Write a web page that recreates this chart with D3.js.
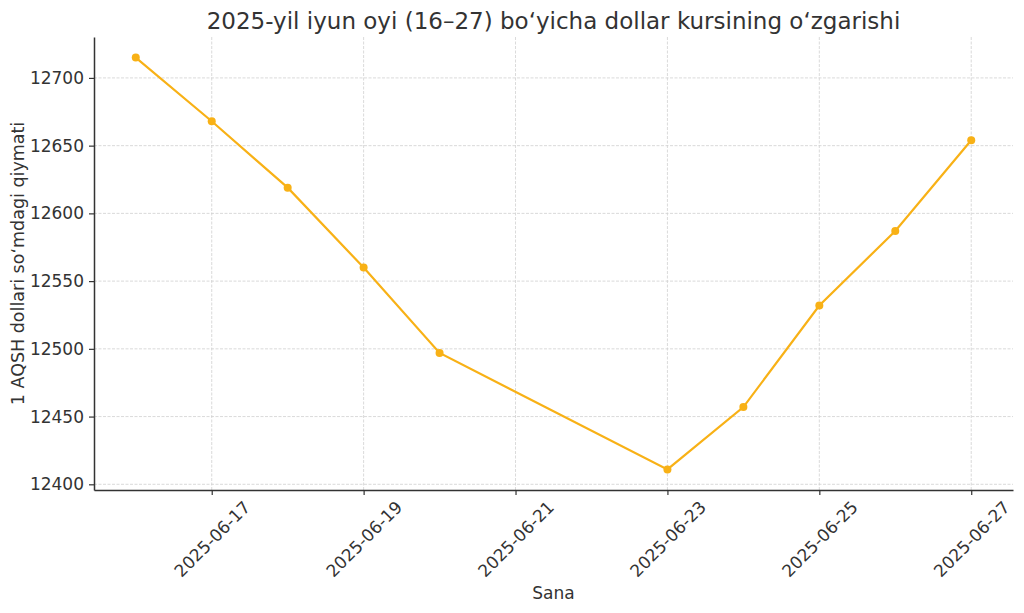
<!DOCTYPE html>
<html><head><meta charset="utf-8">
<script src="https://cdn.jsdelivr.net/npm/d3@7"></script>
<style>body{margin:0;background:#fff}svg{display:block}text{font-family:"DejaVu Sans",sans-serif;fill:#333}</style>
</head><body><svg id="c" width="1024" height="613"></svg>
<script>
const dates = ["2025-06-16","2025-06-17","2025-06-18","2025-06-19","2025-06-20","2025-06-23","2025-06-24","2025-06-25","2025-06-26","2025-06-27"];
const rates = [12715,12668,12619,12560,12497,12411,12457,12532,12587,12654];
const yTicks = [12400,12450,12500,12550,12600,12650,12700];
const xTickLabels = ["2025-06-17","2025-06-19","2025-06-21","2025-06-23","2025-06-25","2025-06-27"];
const titleText = "2025-yil iyun oyi (16–27) bo‘yicha dollar kursining o‘zgarishi";
const yLabel = "1 AQSH dollari so‘mdagi qiymati";
const xLabel = "Sana";

const parse = d3.utcParse("%Y-%m-%d");
const data = dates.map((d,i)=>({date:parse(d), v:rates[i]}));
const L=94,R=1013,T=37,B=490;
const svg=d3.select("#c");
const xMin=parse(dates[0]), xMax=parse(dates[dates.length-1]);
const span=xMax-xMin;
const x=d3.scaleUtc().domain([new Date(+xMin-span*0.05), new Date(+xMax+span*0.05)]).range([L,R]);
const vmin=d3.min(rates), vmax=d3.max(rates), vs=vmax-vmin;
const y=d3.scaleLinear().domain([vmin-vs*0.05, vmax+vs*0.05]).range([B,T]);
const xt = xTickLabels.map(parse);

// grid
const g=svg.append("g");
g.selectAll("line.gy").data(yTicks).join("line").attr("x1",L).attr("x2",R)
 .attr("y1",d=>y(d)).attr("y2",d=>y(d)).attr("stroke","#d0d0d0").attr("stroke-width",0.8).attr("stroke-dasharray","3,1.5");
g.selectAll("line.gx").data(xt).join("line").attr("y1",T).attr("y2",B)
 .attr("x1",d=>x(d)).attr("x2",d=>x(d)).attr("stroke","#d0d0d0").attr("stroke-width",0.8).attr("stroke-dasharray","3,1.5");

// axes
const ya=svg.append("g").attr("transform",`translate(${L},0)`)
 .call(d3.axisLeft(y).tickValues(yTicks).tickSize(5).tickSizeOuter(0).tickPadding(5).tickFormat(d3.format("d")));
ya.select(".domain").attr("stroke","#333").attr("stroke-width",1.5);
ya.selectAll(".tick line").attr("stroke","#333").attr("stroke-width",1.2);
ya.selectAll(".tick text").attr("font-size",17).attr("font-family","DejaVu Sans").attr("fill","#333");

const xa=svg.append("g").attr("transform",`translate(0,${B})`)
 .call(d3.axisBottom(x).tickValues(xt).tickSize(5).tickSizeOuter(0).tickFormat(d3.utcFormat("%Y-%m-%d")));
xa.select(".domain").attr("stroke","#333").attr("stroke-width",1.5);
xa.selectAll(".tick line").attr("stroke","#333").attr("stroke-width",1.2);
xa.selectAll(".tick text").attr("font-size",17).attr("font-family","DejaVu Sans").attr("fill","#333")
 .attr("text-anchor","middle").attr("dy",null).attr("y",null)
 .attr("dominant-baseline","central")
 .attr("transform","translate(0,49) rotate(-45)");

// line
svg.append("path").datum(data).attr("fill","none").attr("stroke","#f8b116").attr("stroke-width",2.2)
 .attr("d",d3.line().x(d=>x(d.date)).y(d=>y(d.v)));
svg.selectAll("circle.p").data(data).join("circle").attr("cx",d=>x(d.date)).attr("cy",d=>y(d.v))
 .attr("r",4).attr("fill","#f8b116");

// labels
svg.append("text").attr("x",(L+R)/2).attr("y",29).attr("text-anchor","middle").attr("font-size",23).text(titleText);
svg.append("text").attr("x",(L+R)/2).attr("y",599).attr("text-anchor","middle").attr("font-size",17).text(xLabel);
svg.append("text").attr("transform",`translate(24,${(T+B)/2}) rotate(-90)`).attr("text-anchor","middle").attr("font-size",17.5).text(yLabel);
</script></body></html>
